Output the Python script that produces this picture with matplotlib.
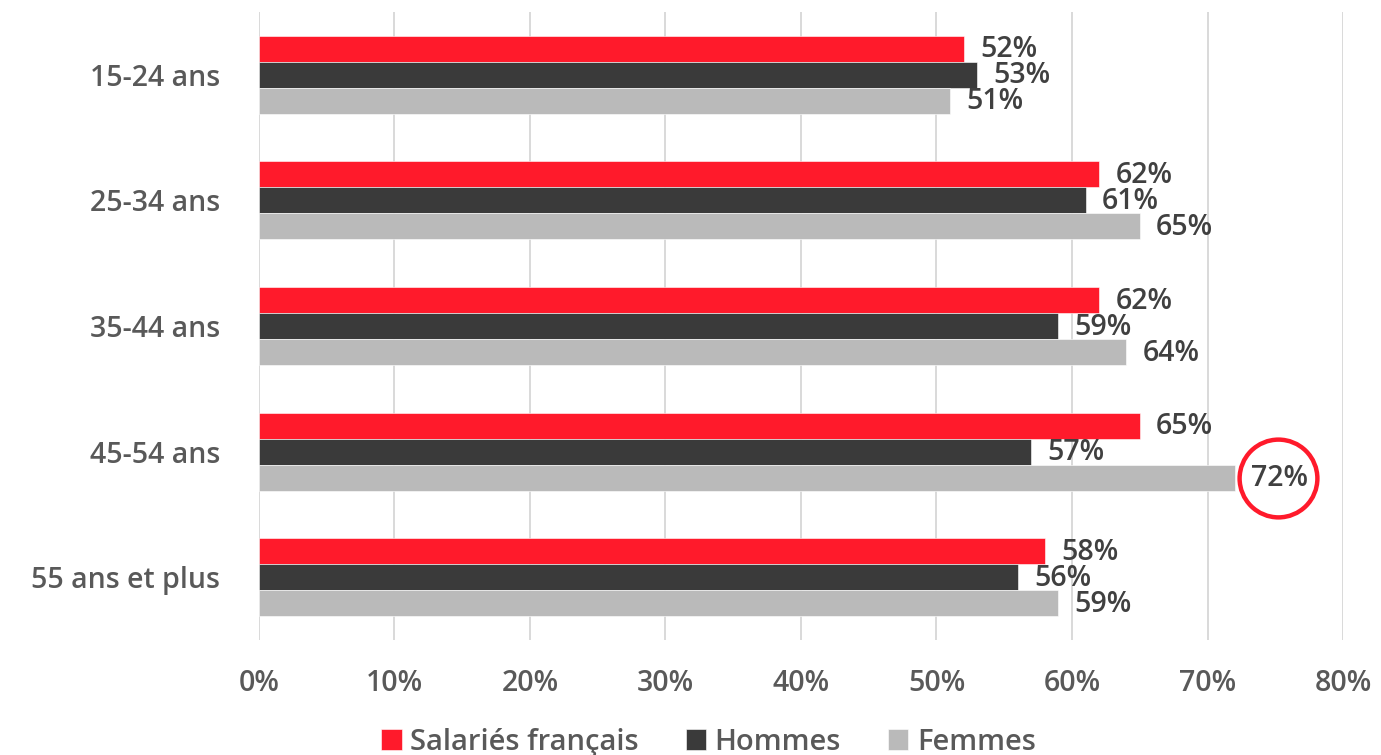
import numpy as np
import matplotlib
matplotlib.use("Agg")
import matplotlib.pyplot as plt
from matplotlib.ticker import FuncFormatter

# age groups and shares per population
categories = ["15-24 ans", "25-34 ans", "35-44 ans", "45-54 ans", "55 ans et plus"]
salaries = [52, 62, 62, 65, 58]
hommes = [53, 61, 59, 57, 56]
femmes = [51, 65, 64, 72, 59]
series_names = ["Salariés français", "Hommes", "Femmes"]
series_colors = ["#ff1a2b", "#3a3a3a", "#bababa"]
highlight = (3, 2)  # (category, series) to circle

plt.rcParams["font.family"] = ["Open Sans", "DejaVu Sans"]

fig = plt.figure(figsize=(13.81, 7.55), dpi=100)
ax = fig.add_axes([0.1875, 0.1523, 0.785, 0.832])

y = np.arange(len(categories))
h = 0.207
all_series = [salaries, hommes, femmes]
for k, (vals, name, col) in enumerate(zip(all_series, series_names, series_colors)):
    pos = y + (k - 1) * h
    ax.barh(pos, vals, height=h, color=col, label=name, edgecolor="white", linewidth=0.4, zorder=3)
    for p, v in zip(pos, vals):
        ax.text(v + 1.2, p + 0.01, f"{v}%", va="center", ha="left", fontsize=20.5,
                fontweight="semibold", color="#404040", zorder=4)

# circle around the highlighted value
ci, si = highlight
hv = all_series[si][ci]
ax.plot(hv + 3.2, y[ci] + (si - 1) * h, marker="o", markersize=56, fillstyle="none",
        markeredgecolor="#ff1a2b", markeredgewidth=3.2, zorder=5, clip_on=False)

ax.set_xlim(0, 80)
ax.set_ylim(len(categories) - 0.5, -0.5)
ax.set_xticks(np.arange(0, 81, 10))
ax.xaxis.set_major_formatter(FuncFormatter(lambda v, _: f"{int(v)}%"))
ax.set_yticks(y)
ax.set_yticklabels(categories)
ax.tick_params(axis="both", length=0, labelsize=20.5, labelcolor="#595959")
ax.tick_params(axis="x", pad=21)
ax.tick_params(axis="y", pad=28)
for lbl in ax.get_xticklabels() + ax.get_yticklabels():
    lbl.set_fontweight("semibold")
ax.grid(axis="x", color="#d9d9d9", linewidth=1.4, zorder=0)
for s in ax.spines.values():
    s.set_visible(False)

leg = fig.legend(loc="center", bbox_to_anchor=(0.513, 0.017), ncol=3, frameon=False,
                 prop={"size": 21, "weight": "semibold"}, handlelength=0.7,
                 handleheight=0.7, handletextpad=0.3, columnspacing=1.6)
for t in leg.get_texts():
    t.set_color("#595959")

fig.savefig("out.png", dpi=100)
